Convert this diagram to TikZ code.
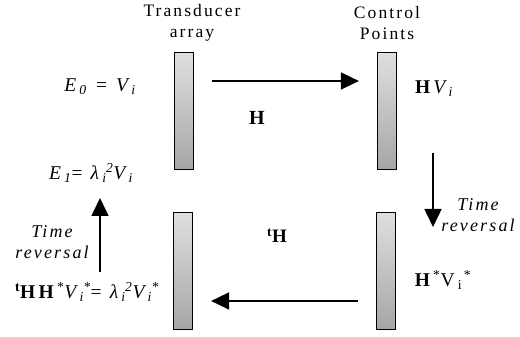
\documentclass[tikz,border=0pt]{standalone}
\usepackage{fontspec}
\setmainfont{Liberation Serif}
\newfontfamily\spacedfont[LetterSpace=12]{Liberation Serif}
\usepackage{tikz}
\usetikzlibrary{arrows.meta}
\newcommand{\subsup}[2]{\textsubscript{#1}\kern-0.5pt\textsuperscript{#2}}
\tikzset{
  bar/.style={draw, line width=1.2pt, minimum width=19pt, minimum height=117pt,
              inner sep=0pt, top color=gray!25, bottom color=gray!70},
  flowarrow/.style={-{Triangle[length=18pt, width=17pt]}, line width=1.6pt},
  caption/.style={font=\spacedfont\fontsize{17.5}{21}\selectfont, align=center, inner sep=0pt},
  italiccap/.style={caption, font=\spacedfont\itshape\fontsize{18}{21}\selectfont},
  formula/.style={font=\fontsize{19.5}{20}\selectfont, inner sep=0pt}
}

\begin{document}
\begin{tikzpicture}[x=1pt, y=1pt]
\useasboundingbox (0,0) rectangle (520,337);

% Arrays
\node[bar] (trtop) at (184,226) {};
\node[bar] (trbot) at (183,66)  {};
\node[bar] (cptop) at (387,226) {};
\node[bar] (cpbot) at (386,66)  {};

% Headings
\node[caption] (trlabel) at (192,314) {Transducer\\array};
\node[caption] (cplabel) at (387,314) {Control\\Points};

% Formulas
\node[formula] (einit) at (100,250) {\textit{E\,\textsubscript{0}\, = \,V\,\textsubscript{i}}};
\node[formula] (hvi)   at (434,248) {\textbf{H}\,\textit{V\,\textsubscript{i}}};
\node[formula] (eone)  at (91,164)  {\textit{E\,\textsubscript{1}}= \,\textit{λ\,\subsup{i}{2}V\,\textsubscript{i}}};
\node[formula] (eqback) at (87,45)  {\textbf{\textsuperscript{t}H\,H}\,\textsuperscript{*}\textit{V\,\subsup{i}{*}}= \,\textit{λ\,\subsup{i}{2}V\,\subsup{i}{*}}};
\node[formula] (hstar) at (443,57)  {\textbf{H}\,\textsuperscript{*}V\,\subsup{i}{\,*}};
\node[formula, font=\fontsize{20}{20}\selectfont\bfseries] (hfwd)  at (257,219) {H};
\node[formula, font=\fontsize{19}{20}\selectfont\bfseries] (hback) at (277,101) {\textsuperscript{t}H};

% Time reversal
\node[italiccap] (revleft)  at (52,95)   {Time\\reversal};
\node[italiccap] (revright) at (478,122) {Time\\reversal};
\coordinate (downstart) at (433,184);
\coordinate (downend)   at (433,110);
\coordinate (upstart)   at (100,65);
\coordinate (upend)     at (100,139);

% Arrows
\draw[flowarrow, shorten <=18pt, shorten >=18pt] ([yshift=30pt]trtop.east) -- ([yshift=30pt]cptop.west);
\draw[flowarrow, shorten <=18pt, shorten >=18pt] ([yshift=-30pt]cpbot.west) -- ([yshift=-30pt]trbot.east);
\draw[flowarrow] (downstart) -- (downend);
\draw[flowarrow] (upstart) -- (upend);

\end{tikzpicture}
\end{document}
